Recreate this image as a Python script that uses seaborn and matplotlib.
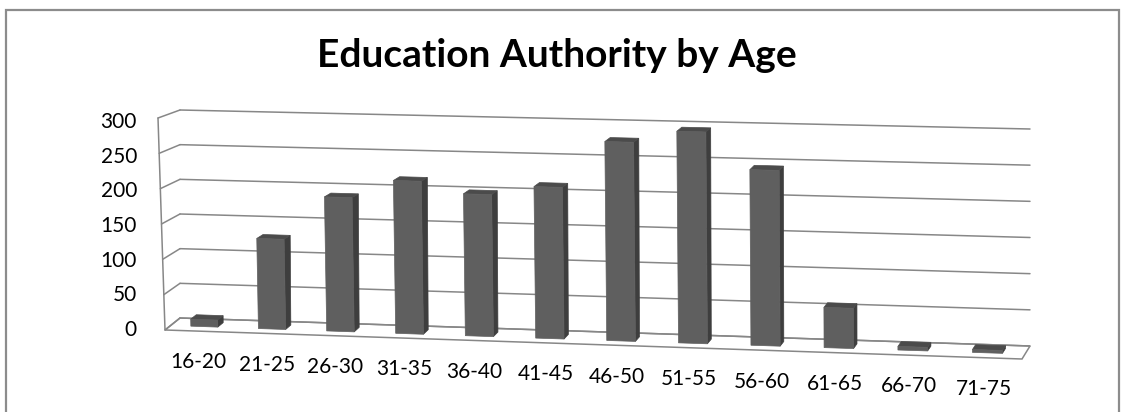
import matplotlib
matplotlib.use("Agg")
import matplotlib.pyplot as plt
import seaborn as sns
from matplotlib.patches import Polygon, Rectangle
from matplotlib.lines import Line2D
from matplotlib.transforms import IdentityTransform

# ---- data ----
age_groups = ["16-20", "21-25", "26-30", "31-35", "36-40", "41-45",
              "46-50", "51-55", "56-60", "61-65", "66-70", "71-75"]
counts = [10, 128, 190, 216, 200, 213, 279, 296, 245, 56, 5, 4]
y_ticks = [0, 50, 100, 150, 200, 250, 300]
chart_title = "Education Authority by Age"

W, H = 1126, 412
sns.set_theme(style="white")
plt.rcParams["font.family"] = ["Lato", "DejaVu Sans"]

grid_col = "#878787"
front_col, side_col, top_col = "#5f5f5f", "#3e3e3e", "#4b4b4b"

fig = plt.figure(figsize=(W / 100, H / 100), dpi=100)
fig.patch.set_facecolor("white")
ax = fig.add_axes([180 / W, (H - 328) / H, 850 / W, 208 / H])

sns.barplot(x=age_groups, y=counts, color=front_col, width=0.4, ax=ax)
ax.set_xlim(-0.5, len(age_groups) - 0.5)
ax.set_ylim(0, 300)
ax.set_yticks(y_ticks)
ax.set_xlabel("")
ax.set_ylabel("")
ax.tick_params(axis="y", length=0, pad=31, labelsize=15, colors="black")
ax.tick_params(axis="x", labelbottom=False, length=0)
ax.patch.set_alpha(0)
for s in ax.spines.values():
    s.set_visible(False)

x_lo, x_hi = ax.get_xlim()
px_left = ax.transData.transform((x_lo, 0))[0]
px_right = ax.transData.transform((x_hi, 0))[0]


def proj(xd, v, z):
    # fake Excel 3D: back wall sags to the right, z goes from back (0) to front (1)
    X, Y = ax.transData.transform((xd, v))
    t = (X - px_left) / (px_right - px_left)
    Y = Y + 10 - t * (28 - 0.03 * v)
    X = X - 50 * t * (1 - t)          # a bit of horizontal perspective
    dx = z * ((-15 - 7 * v / 300) * (1 - t) - 8 * t)
    dy = z * ((12 - 4 * v / 300) * (1 - t) + 13 * t)
    return (X + dx, Y - dy)


def poly(pts, fc, ec, lw=1.0, z=2):
    fig.add_artist(Polygon(pts, closed=True, facecolor=fc, edgecolor=ec,
                           linewidth=lw, transform=IdentityTransform(), zorder=z))


def line(p0, p1, z=1.5):
    fig.add_artist(Line2D([p0[0], p1[0]], [p0[1], p1[1]], color=grid_col,
                          linewidth=1.1, transform=IdentityTransform(), zorder=z))


# floor
poly([proj(x_lo, 0, 0), proj(x_hi, 0, 0), proj(x_hi, 0, 1), proj(x_lo, 0, 1)],
     "white", grid_col, lw=1.1, z=1.2)

# back wall + left wall gridlines
for v in y_ticks:
    line(proj(x_lo, v, 0), proj(x_hi, v, 0))
    line(proj(x_lo, v, 0), proj(x_lo, v, 1))
line(proj(x_lo, 0, 1), proj(x_lo, y_ticks[-1], 1))

# bars: take geometry from seaborn's patches, then draw them as prisms
z_front, z_back = 0.62, 0.25
for p in list(ax.patches):
    x0, w, h = p.get_x(), p.get_width(), p.get_height()
    x1 = x0 + w
    p.remove()
    poly([proj(x1, 0, z_front), proj(x1, 0, z_back), proj(x1, h, z_back), proj(x1, h, z_front)],
         side_col, side_col, lw=0.5, z=3)
    poly([proj(x0, h, z_front), proj(x1, h, z_front), proj(x1, h, z_back), proj(x0, h, z_back)],
         top_col, top_col, lw=0.5, z=3)
    poly([proj(x0, 0, z_front), proj(x1, 0, z_front), proj(x1, h, z_front), proj(x0, h, z_front)],
         front_col, front_col, lw=0.5, z=3.1)

# category labels follow the sloping floor
for i, lab in enumerate(age_groups):
    X, Y = proj(i, 0, 1)
    fig.text(X, Y - 31, lab, transform=IdentityTransform(), ha="center", va="center",
             fontsize=15, color="black")

fig.text(557 / W, (H - 67) / H, chart_title, ha="center", va="baseline",
         fontsize=28, fontweight="bold", color="black")

# chart border
fig.add_artist(Rectangle((6 / W, -0.05), 1113 / W, (H - 10) / H + 0.05, fill=False,
                         edgecolor="#8c8c8c", linewidth=1.6,
                         transform=fig.transFigure, zorder=0.5))

fig.savefig("out.png", dpi=100)
